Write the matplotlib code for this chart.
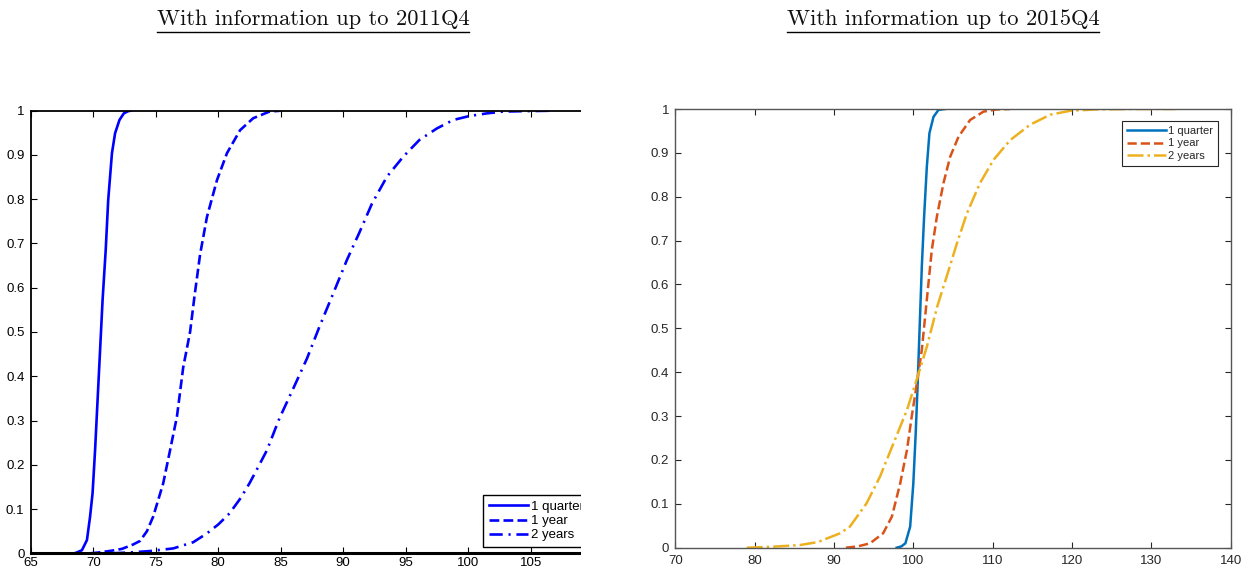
import numpy as np
import matplotlib
matplotlib.use("Agg")
import matplotlib.pyplot as plt
from matplotlib.lines import Line2D
from matplotlib.patches import Rectangle
from matplotlib.ticker import FormatStrFormatter

plt.rcParams['font.family'] = ['Liberation Sans', 'DejaVu Sans']

# ---- data ----
# left panel: information up to 2011Q4
q1_x = [68.5, 68.7, 69.1, 69.5, 69.75, 69.95, 70.15, 70.35, 70.55, 70.75, 71.0,
        71.2, 71.5, 71.75, 72.1, 72.45, 72.8, 73.0]
q1_y = [0, 0.002, 0.007, 0.03, 0.083, 0.136, 0.233, 0.346, 0.459, 0.572, 0.685,
        0.798, 0.904, 0.949, 0.979, 0.994, 0.999, 1.0]

y1_x = [69.8, 70.5, 71.5, 72.3, 73.2, 73.75, 74.3, 74.8, 75.6, 76.15, 76.7, 77.2,
        77.75, 78.1, 78.55, 79.1, 79.9, 80.7, 81.75, 82.8, 84.1, 85.0]
y1_y = [0, 0.002, 0.006, 0.01, 0.02, 0.028, 0.05, 0.083, 0.158, 0.233, 0.309, 0.42,
        0.50, 0.58, 0.675, 0.760, 0.843, 0.904, 0.956, 0.983, 0.998, 1.0]

y2_x = [71.5, 73.0, 74.5, 76.4, 78.0, 79.1, 80.0, 80.9, 81.8, 82.5, 83.2, 83.9, 84.9,
        86.0, 87.1, 88.1, 89.2, 90.3, 91.3, 92.3, 93.5, 94.8, 96.1, 97.5, 98.8,
        100.1, 101.5, 102.8, 104.5, 106.8]
y2_y = [0, 0.002, 0.005, 0.011, 0.025, 0.045, 0.065, 0.09, 0.125, 0.158, 0.195, 0.233, 0.305,
        0.372, 0.44, 0.512, 0.587, 0.663, 0.725, 0.79, 0.851, 0.896, 0.934, 0.960, 0.979,
        0.988, 0.994, 0.998, 0.999, 1.0]

# right panel: information up to 2015Q4
rq_x = [97.9, 98.5, 99.0, 99.6, 100.0, 100.3, 100.55, 100.77, 101.07, 101.36, 101.7,
        102.03, 102.54, 103.17, 104.0]
rq_y = [0, 0.003, 0.01, 0.048, 0.147, 0.261, 0.375, 0.489, 0.641, 0.755, 0.868,
        0.945, 0.982, 0.998, 1.0]

ry1_x = [91.5, 93.0, 94.55, 96.2, 97.3, 98.35, 99.2, 99.8, 100.45, 101.07, 101.7,
         102.33, 102.97, 103.8, 104.64, 105.7, 107.16, 108.84, 110.5, 112.2]
ry1_y = [0, 0.003, 0.01, 0.033, 0.071, 0.147, 0.223, 0.299, 0.375, 0.451, 0.565,
         0.679, 0.755, 0.831, 0.891, 0.937, 0.975, 0.994, 0.999, 1.0]

ry2_x = [79.0, 82.0, 85.7, 88.0, 89.1, 90.8, 92.0, 94.1, 95.8, 97.5, 99.2, 100.4,
         101.7, 103.0, 104.2, 105.5, 106.75, 108.4, 110.1, 112.2, 114.7, 117.25,
         119.8, 123.0, 128.0, 133.0]
ry2_y = [0, 0.002, 0.006, 0.013, 0.021, 0.033, 0.048, 0.101, 0.162, 0.238, 0.314, 0.382,
         0.458, 0.549, 0.618, 0.694, 0.762, 0.831, 0.884, 0.929, 0.964, 0.987,
         0.996, 0.999, 1.0, 1.0]

labels = ['1 quarter', '1 year', '2 years']
titles = ['With information up to 2011Q4', 'With information up to 2015Q4']
left_xticks = [65, 70, 75, 80, 85, 90, 95, 100, 105, 110]
right_xticks = [70, 80, 90, 100, 110, 120, 130, 140]
yticks = np.round(np.arange(0, 1.01, 0.1), 1)

W, H = 1252, 573
fig = plt.figure(figsize=(W / 100, H / 100), dpi=100)

def px_axes(l, t, r, b):
    return fig.add_axes([l / W, 1 - b / H, (r - l) / W, (b - t) / H])

# ---- left panel (old matlab look) ----
ax1 = px_axes(30.7, 110.7, 593.2, 553.3)
ax1.plot(q1_x, q1_y, color='#0000ff', lw=1.9, ls='-', label=labels[0])
ax1.plot(y1_x, y1_y, color='#0000ff', lw=1.9, ls='--', label=labels[1])
ax1.plot(y2_x, y2_y, color='#0000ff', lw=1.9, ls=(0, (5, 2.2, 0.8, 2.2)), label=labels[2])
ax1.set_xlim(65, 110)
ax1.set_ylim(0, 1)
ax1.set_xticks(left_xticks)
ax1.set_yticks(yticks)
ax1.yaxis.set_major_formatter(FormatStrFormatter('%g'))
ax1.tick_params(direction='in', length=4, width=0.8, top=True, right=True,
                labelsize=9.5, colors='black')
ax1.tick_params(axis='x', pad=3)
ax1.tick_params(axis='y', pad=4.5)
for s in ax1.spines.values():
    s.set_linewidth(1.3)
    s.set_color('black')
ax1.spines['bottom'].set_linewidth(2.2)
leg1 = ax1.legend(loc='lower left', bbox_to_anchor=((483.3 - 30.7) / 562.5, (553.3 - 546.7) / 442.6),
                  fontsize=9.5, handlelength=3.0, handletextpad=0.25, labelspacing=0.15,
                  borderpad=0.4, borderaxespad=0, fancybox=False, framealpha=1)
leg1.get_frame().set_edgecolor('black')
leg1.get_frame().set_linewidth(1.0)

# crop the left image at its right edge like the reference
fig.add_artist(Rectangle((581 / W, 0), 45 / W, 0.85, transform=fig.transFigure,
                         facecolor='white', edgecolor='none', zorder=10))

# ---- right panel (newer matlab look) ----
grey = '#262626'
ax2 = px_axes(675.3, 109.0, 1230.7, 547.7)
ax2.plot(rq_x, rq_y, color='#0072BD', lw=1.8, ls='-', label=labels[0])
ax2.plot(ry1_x, ry1_y, color='#D95319', lw=1.8, ls='--', label=labels[1])
ax2.plot(ry2_x, ry2_y, color='#EDB120', lw=1.8, ls='-.', label=labels[2])
ax2.set_xlim(70, 140)
ax2.set_ylim(0, 1)
ax2.set_xticks(right_xticks)
ax2.set_yticks(yticks)
ax2.yaxis.set_major_formatter(FormatStrFormatter('%g'))
ax2.tick_params(direction='in', length=4, width=0.8, top=True, right=True,
                labelsize=9.5, colors=grey)
ax2.tick_params(axis='x', pad=5.5)
ax2.tick_params(axis='y', pad=4.5)
for s in ax2.spines.values():
    s.set_linewidth(1.0)
    s.set_color('#555555')
leg2 = ax2.legend(loc='upper right', bbox_to_anchor=((1218.3 - 675.3) / 555.4, 1 - (120.7 - 109.0) / 438.7),
                  fontsize=8, handlelength=3.5, handletextpad=0.2, labelspacing=0.25,
                  borderpad=0.45, borderaxespad=0, fancybox=False, framealpha=1)
leg2.get_frame().set_edgecolor(grey)
leg2.get_frame().set_linewidth(0.8)
for t in leg2.get_texts():
    t.set_color(grey)

# ---- underlined serif titles ----
title_x = [313 / W, 943 / W]
title_texts = []
for tx, tt in zip(title_x, titles):
    title_texts.append(fig.text(tx, 1 - 25 / H, tt, ha='center', va='baseline',
                                family='cmr10', fontsize=16.2, color='#111111'))
fig.canvas.draw()
rend = fig.canvas.get_renderer()
for t in title_texts:
    bb = t.get_window_extent(rend)
    yl = 1 - 32 / H
    fig.add_artist(Line2D([bb.x0 / W, bb.x1 / W], [yl, yl], transform=fig.transFigure,
                          color='black', lw=1.0))

fig.savefig('out.png', dpi=100)
